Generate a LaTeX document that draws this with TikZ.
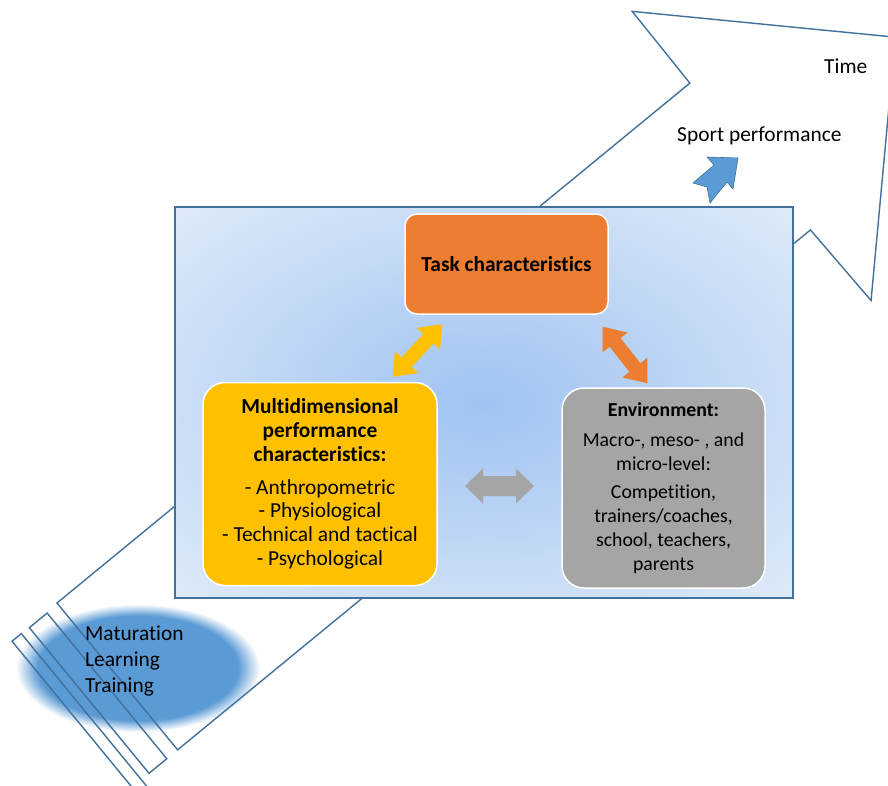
\documentclass[tikz,border=0pt]{standalone}
\usepackage{fontspec}
\setmainfont[Ligatures=NoCommon]{Carlito}
\usetikzlibrary{calc}
\definecolor{outl}{HTML}{41719C}
\definecolor{blobblue}{HTML}{5B9BD5}
\definecolor{pancenter}{HTML}{9FC3F1}
\definecolor{panedge}{HTML}{E0EBF9}
\definecolor{taskor}{HTML}{ED7D31}
\definecolor{multiyel}{HTML}{FFC000}
\definecolor{envgray}{HTML}{A5A5A5}
\pgfdeclareradialshading{panelshade}{\pgfpoint{0bp}{0bp}}{color(0bp)=(pancenter); color(36bp)=(panedge); color(50bp)=(panedge)}
\pgfdeclareradialshading{blobshade}{\pgfpoint{0bp}{0bp}}{color(0bp)=(blobblue); color(20.5bp)=(blobblue); color(25bp)=(white); color(50bp)=(white)}
\tikzset{
  outline/.style={draw=outl, line width=1.4pt, line join=miter},
  cbox/.style={rectangle, draw=white, line width=1.5pt, align=center, inner sep=0pt, text=black},
  lbl/.style={inner sep=0pt, text=black, font=\fontsize{21.4}{24}\selectfont},
}
\begin{document}
\begin{tikzpicture}[x=1pt,y=-1pt]
\clip (0,0) rectangle (888,785);
\fill[white] (0,0) rectangle (888,785);
% soft blob
\shade[shading=blobshade] (138,668) ellipse [x radius=122, y radius=64];
% big arrow in a frame along the shaft
\begin{scope}[shift={(57pt,-603pt)}, x={(0.7727pt,0.6348pt)}, y={(0.6348pt,-0.7727pt)}]
  \coordinate (s0) at (0,0);
  \draw[outline] (0,0) -- (819,0) -- (820,-92) -- (1007,95) -- (821,283) -- (819,190) -- (0,190) -- cycle;
  \draw[outline] (-37,1.5) -- (-14,1.5) -- (-14,190) -- (-37,190) -- cycle;
  \draw[outline] (-59,1) -- (-47,1) -- (-47,200) -- (-59,200) -- cycle;
\end{scope}
% main panel
\node[rectangle, draw=outl, line width=1.4pt, shading=panelshade, minimum width=618pt, minimum height=391pt, inner sep=0pt] (panel) at (484,402.5) {};
% boxes
\node[cbox, fill=taskor, rounded corners=12pt, minimum width=203pt, minimum height=100pt, font=\bfseries\fontsize{21.4}{24}\selectfont] (task) at (506.5,264) {Task characteristics};
\node[cbox, fill=multiyel, rounded corners=22pt, minimum width=234pt, minimum height=203pt, font=\fontsize{21.4}{23.8}\selectfont] (multi) at (320,484) {\textbf{Multidimensional}\\\textbf{performance}\\\textbf{characteristics:}\\[9pt]- Anthropometric\\- Physiological\\- Technical and tactical\\- Psychological};
\node[cbox, fill=envgray, rounded corners=22pt, minimum width=203pt, minimum height=200pt, font=\fontsize{19.8}{23.8}\selectfont] (env) at (663.5,488) {\textbf{Environment:}\\[6.5pt]Macro-, meso- , and\\micro-level:\\[4.5pt]Competition,\\trainers/coaches,\\school, teachers,\\parents};
% double block arrows
\coordinate (ym) at (417.5,350.5);
\coordinate (om) at (625,355);
\coordinate (gm) at (499.5,486);
\begin{scope}[shift={(ym)}, rotate=47]
  \fill[multiyel] (-36,0) -- (-16,16) -- (-16,7) -- (16,7) -- (16,16) -- (36,0) -- (16,-16) -- (16,-7) -- (-16,-7) -- (-16,-16) -- cycle;
\end{scope}
\begin{scope}[shift={(om)}, rotate=-51.8]
  \fill[taskor] (-36,0) -- (-16,16) -- (-16,7) -- (16,7) -- (16,16) -- (36,0) -- (16,-16) -- (16,-7) -- (-16,-7) -- (-16,-16) -- cycle;
\end{scope}
\begin{scope}[shift={(gm)}]
  \fill[envgray] (-34.5,0) -- (-16.5,17.5) -- (-16.5,10) -- (16.5,10) -- (16.5,17.5) -- (34.5,0) -- (16.5,-17.5) -- (16.5,-10) -- (-16.5,-10) -- (-16.5,-17.5) -- cycle;
\end{scope}
% small blue notched arrow
\draw[fill=blobblue, draw=outl, line width=0.6pt, line join=miter] (738,158) -- (707,157) -- (714,165) -- (693,183) -- (707,187) -- (710,203) -- (727,182) -- (733,189) -- cycle;
% labels
\node[lbl, anchor=west] (sport) at (677,136) {Sport performance};
\node[lbl, anchor=west] (time) at (824,66) {Time};
\node[lbl, anchor=west, align=left, font=\fontsize{21.4}{26}\selectfont] (mlt) at (85,661) {Maturation\\Learning\\Training};
\end{tikzpicture}
\end{document}
